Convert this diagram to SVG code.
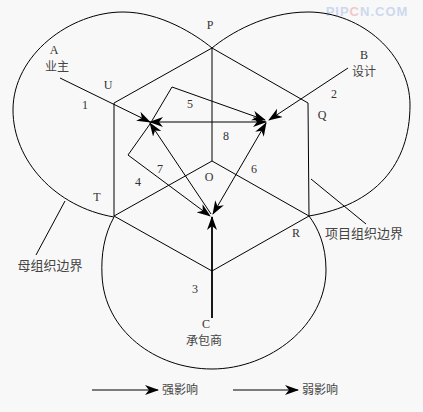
<svg xmlns="http://www.w3.org/2000/svg" width="423" height="412" viewBox="0 0 423 412">
<defs>
<marker id="ah" markerUnits="userSpaceOnUse" markerWidth="14" markerHeight="10" viewBox="0 0 14 10" refX="13" refY="5" orient="auto-start-reverse">
<path d="M0,0 L14,5 L0,10 L4,5 z" fill="#000"/>
</marker>
</defs>
<style>
.ln{fill:none;stroke:#000;stroke-width:1}
.arr{fill:none;stroke:#000;stroke-width:1;marker-end:url(#ah)}
.dbl{marker-start:url(#ah)}
.lb{font-family:"Liberation Serif","Noto Sans CJK SC",serif;font-size:12px;fill:#333;text-anchor:middle}
.cn{font-family:"Liberation Serif","Noto Sans CJK SC",serif;font-size:12px;fill:#444;text-anchor:middle}
</style>
<rect width="423" height="412" fill="#f8f8f8"/>
<text x="367" y="16" font-family="Liberation Sans, sans-serif" font-size="13" font-weight="bold" fill="#cdd8ee" text-anchor="middle" letter-spacing="1">PIP<tspan fill="#f2c8c8">C</tspan>N.COM</text>

<g id="boundaries">
<path class="ln" d="M212,48 C195,34 160,12 123,12 C70,12 13,55 13,110 C13,160 55,207 114,217"/>
<path class="ln" d="M212,48 C229,34 265,12 308,12 C362,12 410,55 410,105 C410,165 375,205 309,216"/>
<path class="ln" d="M114,217 C104,235 101,255 102,275 C104,330 155,369 212,369 C270,369 326,325 326,270 C326,245 318,228 309,216"/>
<path class="ln" d="M36,255 L65,201"/>
<path class="ln" d="M311,179 L366,224"/>
</g>

<g id="hexagon">
<path class="ln" d="M212,48 L308,103 L309,216 L212,271 L114,216 L114,103 Z"/>
<path class="ln" d="M212,48 L212,161 M212,161 L114,216 M212,161 L309,216"/>
</g>

<g id="connectors">
<path class="arr" d="M60,78 L150,122"/>
<path class="arr" d="M348,68 L269,120"/>
<path class="arr" style="stroke-width:1.8" d="M212,318 L212,217"/>
<path class="arr dbl" d="M150,122 L266,122"/>
<path class="arr" d="M150,124 L172,87 L265,120"/>
<path class="arr" d="M150,124 L128,155 L210,216"/>
<path class="arr" d="M211,214 L150,123"/>
<path class="arr dbl" d="M213,214 L266,123"/>
</g>

<g id="node-A"><text class="lb" x="54" y="54">A</text><text class="cn" x="57" y="71">业主</text></g>
<g id="node-B"><text class="lb" x="364" y="59">B</text><text class="cn" x="364" y="76">设计</text></g>
<g id="node-C"><text class="lb" x="206" y="328">C</text><text class="cn" x="204" y="345">承包商</text></g>

<g id="labels">
<text class="lb" x="210" y="29">P</text>
<text class="lb" x="108" y="89">U</text>
<text class="lb" x="322" y="119">Q</text>
<text class="lb" x="97" y="201">T</text>
<text class="lb" x="296" y="237">R</text>
<text class="lb" x="209" y="181">O</text>
<text class="lb" x="85" y="109">1</text>
<text class="lb" x="334" y="98">2</text>
<text class="lb" x="195" y="293">3</text>
<text class="lb" x="138" y="186">4</text>
<text class="lb" x="190" y="108">5</text>
<text class="lb" x="254" y="173">6</text>
<text class="lb" x="160" y="173">7</text>
<text class="lb" x="226" y="140">8</text>
<text class="cn" x="50" y="270" style="font-size:13px">母组织边界</text>
<text class="cn" x="364" y="238" style="font-size:13px">项目组织边界</text>
</g>

<g id="legend">
<path class="arr" d="M92,390 L158,390"/>
<text class="cn" x="180" y="394">强影响</text>
<path class="arr" d="M233,390 L298,390"/>
<text class="cn" x="320" y="394">弱影响</text>
</g>
</svg>
